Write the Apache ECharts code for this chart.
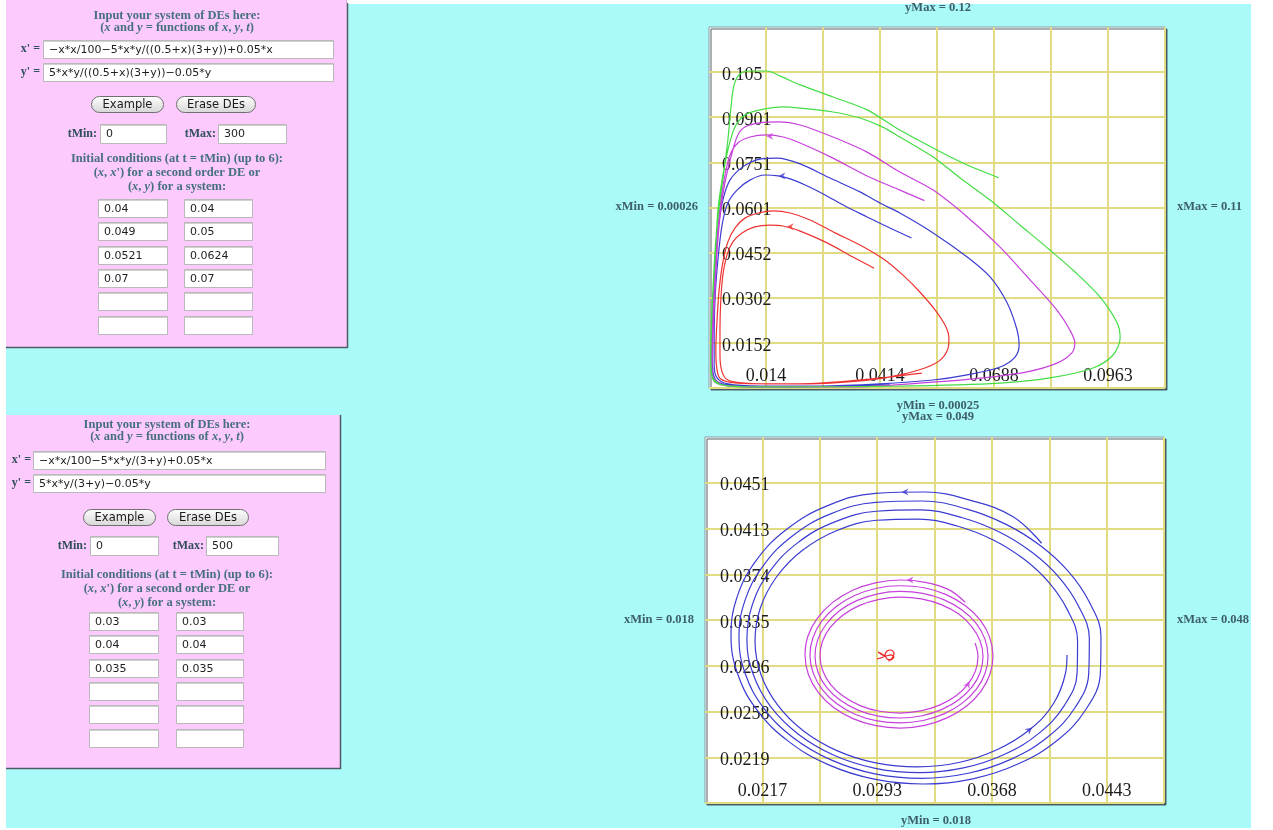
<!DOCTYPE html>
<html><head><meta charset="utf-8">
<script src="https://cdn.jsdelivr.net/npm/echarts@6/dist/echarts.min.js"></script>
<style>html,body{margin:0;padding:0;background:#fff;}#c{width:1273px;height:830px;}</style>
</head><body><div id="c"></div>
<script>
// ================= DATA =================
// Plot 1 (top) window
const p1XMin = 0.00026, p1XMax = 0.11, p1YMin = 0.00025, p1YMax = 0.12;
const p1XLabels = ['', '0.014', '', '0.0414', '', '0.0688', '', '0.0963', ''];
const p1YLabels = ['', '0.0152', '0.0302', '0.0452', '0.0601', '0.0751', '0.0901', '0.105', ''];
// Plot 2 (bottom) window
const p2XMin = 0.018, p2XMax = 0.048, p2YMin = 0.018, p2YMax = 0.049;
const p2XLabels = ['', '0.0217', '', '0.0293', '', '0.0368', '', '0.0443', ''];
const p2YLabels = ['', '0.0219', '0.0258', '0.0296', '0.0335', '0.0374', '0.0413', '0.0451', ''];

// Plot 1 trajectories (x, y)
const p1Red = [[0.0400,0.0400],[0.0349,0.0437],[0.0287,0.0484],[0.0222,0.0523],[0.0181,0.0540],[0.0149,0.0543],[0.0113,0.0537],[0.0082,0.0517],[0.0060,0.0487],[0.0046,0.0444],[0.0036,0.0377],[0.0031,0.0294],[0.0029,0.0195],[0.0029,0.0112],[0.0034,0.0056],[0.0048,0.0029],[0.0089,0.0019],[0.0173,0.0016],[0.0294,0.0019],[0.0390,0.0029],[0.0462,0.0046],[0.0522,0.0069],[0.0559,0.0095],[0.0578,0.0135],[0.0580,0.0168],[0.0573,0.0205],[0.0547,0.0261],[0.0510,0.0321],[0.0474,0.0371],[0.0426,0.0427],[0.0366,0.0477],[0.0306,0.0517],[0.0246,0.0560],[0.0198,0.0583],[0.0157,0.0590],[0.0121,0.0583],[0.0089,0.0566],[0.0065,0.0533],[0.0048,0.0487],[0.0036,0.0420],[0.0027,0.0328],[0.0022,0.0228],[0.0019,0.0128],[0.0022,0.0062],[0.0031,0.0032],[0.0065,0.0019],[0.0149,0.0016],[0.0270,0.0019],[0.0390,0.0032],[0.0515,0.0052]];
const p1Blue = [[0.0490,0.0500],[0.0438,0.0533],[0.0383,0.0570],[0.0330,0.0606],[0.0282,0.0643],[0.0234,0.0676],[0.0198,0.0696],[0.0169,0.0706],[0.0137,0.0709],[0.0101,0.0692],[0.0070,0.0659],[0.0048,0.0616],[0.0034,0.0543],[0.0024,0.0427],[0.0017,0.0294],[0.0015,0.0162],[0.0015,0.0079],[0.0022,0.0036],[0.0048,0.0016],[0.0125,0.0009],[0.0270,0.0009],[0.0414,0.0016],[0.0542,0.0029],[0.0624,0.0046],[0.0703,0.0072],[0.0739,0.0105],[0.0749,0.0145],[0.0744,0.0195],[0.0720,0.0285],[0.0679,0.0371],[0.0624,0.0437],[0.0542,0.0517],[0.0462,0.0583],[0.0414,0.0616],[0.0366,0.0653],[0.0294,0.0699],[0.0222,0.0746],[0.0166,0.0765],[0.0125,0.0762],[0.0084,0.0736],[0.0053,0.0692],[0.0036,0.0626],[0.0024,0.0527],[0.0017,0.0394],[0.0012,0.0261],[0.0010,0.0128],[0.0012,0.0056],[0.0024,0.0022],[0.0065,0.0009],[0.0173,0.0006],[0.0318,0.0009],[0.0438,0.0013]];
const p1Magenta = [[0.0521,0.0624],[0.0462,0.0659],[0.0383,0.0706],[0.0301,0.0765],[0.0222,0.0815],[0.0181,0.0835],[0.0142,0.0842],[0.0101,0.0835],[0.0072,0.0815],[0.0053,0.0775],[0.0041,0.0709],[0.0031,0.0626],[0.0022,0.0493],[0.0015,0.0328],[0.0010,0.0162],[0.0010,0.0069],[0.0017,0.0029],[0.0048,0.0009],[0.0173,0.0006],[0.0342,0.0006],[0.0542,0.0022],[0.0662,0.0036],[0.0768,0.0056],[0.0840,0.0085],[0.0876,0.0119],[0.0883,0.0152],[0.0871,0.0195],[0.0840,0.0261],[0.0782,0.0351],[0.0703,0.0470],[0.0624,0.0570],[0.0542,0.0659],[0.0462,0.0719],[0.0383,0.0785],[0.0301,0.0835],[0.0222,0.0875],[0.0173,0.0885],[0.0125,0.0882],[0.0089,0.0868],[0.0072,0.0842],[0.0060,0.0792],[0.0046,0.0716],[0.0034,0.0626],[0.0024,0.0493],[0.0017,0.0328],[0.0012,0.0162],[0.0010,0.0062],[0.0017,0.0022],[0.0053,0.0009],[0.0198,0.0006],[0.0366,0.0006]];
const p1Green = [[0.0700,0.0700],[0.0624,0.0742],[0.0551,0.0792],[0.0462,0.0858],[0.0383,0.0925],[0.0301,0.0968],[0.0222,0.1008],[0.0173,0.1038],[0.0142,0.1054],[0.0101,0.1054],[0.0077,0.1044],[0.0063,0.1008],[0.0056,0.0941],[0.0048,0.0825],[0.0039,0.0726],[0.0029,0.0626],[0.0019,0.0493],[0.0012,0.0328],[0.0007,0.0162],[0.0007,0.0062],[0.0017,0.0022],[0.0053,0.0009],[0.0173,0.0006],[0.0462,0.0009],[0.0703,0.0019],[0.0823,0.0036],[0.0927,0.0069],[0.0975,0.0112],[0.0992,0.0168],[0.0985,0.0218],[0.0944,0.0304],[0.0883,0.0388],[0.0823,0.0460],[0.0751,0.0543],[0.0679,0.0626],[0.0607,0.0699],[0.0542,0.0769],[0.0462,0.0835],[0.0421,0.0868],[0.0366,0.0898],[0.0301,0.0918],[0.0222,0.0931],[0.0181,0.0935],[0.0125,0.0925],[0.0089,0.0908],[0.0065,0.0868],[0.0048,0.0792],[0.0034,0.0692],[0.0024,0.0593],[0.0017,0.0427],[0.0010,0.0261],[0.0007,0.0095],[0.0012,0.0036],[0.0034,0.0013],[0.0125,0.0006]];
const p1Arrows = [[0.0198,0.0537,0,'#ee3333'],[0.0178,0.0706,0,'#3c3cd2'],[0.0149,0.0838,0,'#c640dc']];

// Plot 2 trajectories
const p2Blue = [[0.04000,0.04000],[0.03814,0.04224],[0.03542,0.04361],[0.03237,0.04434],[0.02914,0.04423],[0.02602,0.04319],[0.02336,0.04121],[0.02135,0.03855],[0.02010,0.03546],[0.01970,0.03217],[0.02015,0.02888],[0.02142,0.02584],[0.02344,0.02324],[0.02605,0.02125],[0.02906,0.02002],[0.03229,0.01961],[0.03551,0.02005],[0.03849,0.02132],[0.04103,0.02331],[0.04290,0.02594],[0.04384,0.02898],[0.04388,0.03209],[0.04312,0.03502],[0.04176,0.03760],
 [0.03993,0.03979],[0.03771,0.04158],[0.03512,0.04289],[0.03222,0.04358],[0.02917,0.04347],[0.02621,0.04249],[0.02369,0.04060],[0.02179,0.03807],[0.02061,0.03514],[0.02022,0.03201],[0.02065,0.02889],[0.02186,0.02600],[0.02377,0.02353],[0.02624,0.02165],[0.02910,0.02047],[0.03216,0.02009],[0.03520,0.02052],[0.03802,0.02172],[0.04042,0.02361],[0.04219,0.02609],[0.04308,0.02898],[0.04312,0.03193],[0.04240,0.03471],[0.04111,0.03716],
 [0.03937,0.03923],[0.03727,0.04093],[0.03483,0.04216],[0.03208,0.04282],[0.02920,0.04271],[0.02640,0.04177],[0.02401,0.03999],[0.02222,0.03759],[0.02110,0.03482],[0.02074,0.03185],[0.02115,0.02890],[0.02229,0.02616],[0.02410,0.02383],[0.02643,0.02205],[0.02913,0.02094],[0.03201,0.02057],[0.03489,0.02097],[0.03755,0.02211],[0.03982,0.02390],[0.04148,0.02625],[0.04232,0.02898],[0.04235,0.03177],[0.04167,0.03440],[0.04046,0.03671],
 [0.03882,0.03868],[0.03684,0.04028],[0.03453,0.04144],[0.03195,0.04205],[0.02922,0.04195],[0.02659,0.04106],[0.02435,0.03938],[0.02266,0.03712],[0.02161,0.03449],[0.02127,0.03170],[0.02165,0.02891],[0.02273,0.02633],[0.02442,0.02412],[0.02662,0.02244],[0.02916,0.02140],[0.03188,0.02106],[0.03458,0.02143],[0.03708,0.02251],[0.03921,0.02420],[0.04077,0.02641],[0.04156,0.02899],[0.04166,0.03054]];
const p2Magenta = [[0.03500,0.03500],[0.03393,0.03607],[0.03240,0.03669],[0.03076,0.03689],[0.02913,0.03665],[0.02762,0.03600],[0.02633,0.03497],[0.02535,0.03366],[0.02473,0.03214],[0.02454,0.03051],[0.02476,0.02888],[0.02539,0.02739],[0.02639,0.02611],[0.02767,0.02515],[0.02917,0.02455],[0.03076,0.02435],[0.03235,0.02458],[0.03382,0.02521],[0.03508,0.02619],[0.03603,0.02746],[0.03663,0.02893],[0.03682,0.03049],[0.03660,0.03205],[0.03599,0.03349],
 [0.03502,0.03471],[0.03376,0.03565],[0.03231,0.03623],[0.03076,0.03640],[0.02922,0.03619],[0.02778,0.03557],[0.02656,0.03463],[0.02563,0.03340],[0.02505,0.03198],[0.02486,0.03048],[0.02508,0.02898],[0.02568,0.02759],[0.02662,0.02641],[0.02784,0.02550],[0.02926,0.02495],[0.03076,0.02478],[0.03226,0.02499],[0.03365,0.02557],[0.03484,0.02648],[0.03575,0.02766],[0.03631,0.02901],[0.03650,0.03046],[0.03629,0.03190],[0.03571,0.03323],
 [0.03478,0.03436],[0.03360,0.03523],[0.03223,0.03576],[0.03076,0.03592],[0.02930,0.03572],[0.02795,0.03516],[0.02679,0.03428],[0.02592,0.03314],[0.02537,0.03184],[0.02519,0.03045],[0.02539,0.02906],[0.02596,0.02778],[0.02685,0.02670],[0.02800,0.02587],[0.02933,0.02536],[0.03076,0.02520],[0.03218,0.02539],[0.03349,0.02593],[0.03461,0.02677],[0.03547,0.02785],[0.03600,0.02910],[0.03617,0.03043],[0.03597,0.03176],[0.03542,0.03297],
 [0.03456,0.03402],[0.03344,0.03480],[0.03214,0.03529],[0.03076,0.03544],[0.02939,0.03525],[0.02811,0.03474],[0.02703,0.03393],[0.02620,0.03289],[0.02568,0.03170],[0.02552,0.03042],[0.02571,0.02916],[0.02624,0.02799],[0.02709,0.02699],[0.02817,0.02623],[0.02942,0.02577],[0.03076,0.02562],[0.03210,0.02580],[0.03333,0.02629],[0.03439,0.02706],[0.03518,0.02805],[0.03568,0.02919],[0.03584,0.03041],[0.03565,0.03155]];
const p2Red = [[0.03000,0.03000],[0.03029,0.03037],[0.03035,0.03071],[0.03016,0.03096],[0.02990,0.03087],[0.02976,0.03054],[0.02990,0.03020],[0.03016,0.03012],[0.03035,0.03037],[0.03016,0.03054],[0.02976,0.03045],[0.02931,0.03079],[0.02976,0.03045],[0.02924,0.03020]];
const p2Arrows = [[0.03107,0.04434,0,'#3c3cd2'],[0.03921,0.02420,-141,'#3c3cd2'],[0.03140,0.03689,0,'#c640dc'],[0.03518,0.02805,-115,'#c640dc']];

// Form contents
const topDEs = ['\u2212x*x/100\u22125*x*y/((0.5+x)(3+y))+0.05*x', '5*x*y/((0.5+x)(3+y))\u22120.05*y'];
const topT = ['0', '300'];
const topICx = ['0.04', '0.049', '0.0521', '0.07', '', ''];
const topICy = ['0.04', '0.05', '0.0624', '0.07', '', ''];
const botDEs = ['\u2212x*x/100\u22125*x*y/(3+y)+0.05*x', '5*x*y/(3+y)\u22120.05*y'];
const botT = ['0', '500'];
const botICx = ['0.03', '0.04', '0.035', '', '', ''];
const botICy = ['0.03', '0.04', '0.035', '', '', ''];
const p1Titles = ['yMax = 0.12', 'xMin = 0.00026', 'xMax = 0.11', 'yMin = 0.00025'];
const p2Titles = ['yMax = 0.049', 'xMin = 0.018', 'xMax = 0.048', 'yMin = 0.018'];

// ================= DRAWING =================
const CYAN = '#aafafa', PINK = '#fccafc', LBL = '#46707e';
const SERIF = '"Liberation Serif","Times New Roman",serif';
const SANS = '"DejaVu Sans",sans-serif';
const G = [];
function txt(x, y, text, font, align, fill, rich, z) {
  G.push({type: 'text', x: x, y: y, z: z || 10, silent: true,
    style: {text: text, font: font, fill: fill || LBL, align: align || 'center', verticalAlign: 'middle',
            textAlign: align || 'center', textVerticalAlign: 'middle', rich: rich}});
}
function rect(x, y, w, h, fill, stroke, z, r, lw) {
  G.push({type: 'rect', z: z || 5, silent: true, shape: {x: x, y: y, width: w, height: h, r: r || 0},
    style: {fill: fill, stroke: stroke || null, lineWidth: lw || 1}});
}
function line(x1, y1, x2, y2, stroke, lw, z) {
  G.push({type: 'line', z: z || 6, silent: true, shape: {x1: x1, y1: y1, x2: x2, y2: y2}, style: {stroke: stroke, lineWidth: lw || 1}});
}
function field(x, y, w, h, value) {
  rect(x + 0.5, y + 0.5, w, h, '#ffffff', '#b9b9b9', 6);
  line(x + 1, y + 1.5, x + w, y + 1.5, '#d0d0d0', 1, 7);
  if (value) txt(x + 6, y + h / 2 + 1, value, '11px ' + SANS, 'left', '#1e1e1e');
}
function button(x, y, w, h, label) {
  G.push({type: 'rect', z: 6, silent: true, shape: {x: x + 0.5, y: y + 0.5, width: w, height: h, r: h / 2},
    style: {fill: {type: 'linear', x: 0, y: 0, x2: 0, y2: 1, colorStops: [{offset: 0, color: '#ffffff'}, {offset: 1, color: '#d6d6d6'}]},
            stroke: '#6f6f6f', lineWidth: 1}});
  txt(x + w / 2 + 0.5, y + h / 2 + 1, label, '11.5px ' + SANS, 'center', '#1a1a1a');
}
const BOLD = 'bold 12.5px ' + SERIF;
const ITAL = {i: {font: 'italic bold 12.5px ' + SERIF, fill: LBL}};
function panel(o) {
  rect(o.x, o.y, o.w, o.h, PINK, null, -50);
  line(o.x + o.w + 0.5, o.y, o.x + o.w + 0.5, o.y + o.h + 1, '#4f5b60', 1.5, -40);
  line(o.x, o.y + o.h + 0.5, o.x + o.w + 1, o.y + o.h + 0.5, '#4f5b60', 1.5, -40);
  const c = o.cx;
  txt(c, o.hy, 'Input your system of DEs here:', BOLD);
  txt(c, o.hy + 12, '({i|x} and {i|y} = functions of {i|x}, {i|y}, {i|t})', BOLD, 'center', LBL, ITAL);
  txt(o.lx, o.ey + 9, "x' =", 'bold 12px ' + SERIF, 'right', '#2f4f5a');
  field(o.ex, o.ey, o.ew, 18, o.des[0]);
  txt(o.lx, o.ey + 32, "y' =", 'bold 12px ' + SERIF, 'right', '#2f4f5a');
  field(o.ex, o.ey + 23, o.ew, 18, o.des[1]);
  button(o.bx[0], o.by, o.bw[0], 16, 'Example');
  button(o.bx[1], o.by, o.bw[1], 16, 'Erase DEs');
  txt(o.tx[0], o.ty + 10, 'tMin:', 'bold 12px ' + SERIF, 'right', '#2f4f5a');
  field(o.tx[0] + 3, o.ty, o.tw[0], 19, o.t[0]);
  txt(o.tx[1], o.ty + 10, 'tMax:', 'bold 12px ' + SERIF, 'right', '#2f4f5a');
  field(o.tx[1] + 2, o.ty, o.tw[1], 19, o.t[1]);
  txt(c, o.iy, 'Initial conditions (at t = tMin) (up to 6):', BOLD);
  txt(c, o.iy + 14, "({i|x}, {i|x}') for a second order DE or", BOLD, 'center', LBL, ITAL);
  txt(c, o.iy + 28, '({i|x}, {i|y}) for a system:', BOLD, 'center', LBL, ITAL);
  for (let k = 0; k < 6; k++) {
    const yy = Math.round(o.fy + k * 23.3);
    field(o.fx[0], yy, o.fw[0], 18, o.icx[k]);
    field(o.fx[1], yy, o.fw[1], 18, o.icy[k]);
  }
}
// backgrounds
rect(6, 4, 1245, 824, CYAN, null, -100);
panel({x: 6, y: 0, w: 341, h: 347, cx: 177, hy: 16, lx: 40, ex: 43, ey: 40, ew: 290, des: topDEs,
  bx: [91, 176], bw: [72, 79], by: 96, tx: [97, 216], tw: [66, 68], ty: 124, t: topT,
  iy: 159, fx: [98, 184], fw: [69, 68], fy: 199, icx: topICx, icy: topICy});
txt(177, -3, 'or', BOLD);
panel({x: 6, y: 415, w: 334, h: 353, cx: 167, hy: 425, lx: 31, ex: 33, ey: 451, ew: 292, des: botDEs,
  bx: [83, 167], bw: [72, 81], by: 509, tx: [87, 204], tw: [68, 72], ty: 536, t: botT,
  iy: 575, fx: [89, 176], fw: [69, 67], fy: 612, icx: botICx, icy: botICy});

// window labels
const TF = 'bold 12.5px ' + SERIF, TC = '#3d5f6b';
txt(938, 8, p1Titles[0], TF, 'center', TC);
txt(698, 207, p1Titles[1], TF, 'right', TC);
txt(1177, 207, p1Titles[2], TF, 'left', TC);
txt(938, 406, p1Titles[3], TF, 'center', TC);
txt(938, 417, p2Titles[0], TF, 'center', TC);
txt(694, 620, p2Titles[1], TF, 'right', TC);
txt(1177, 620, p2Titles[2], TF, 'left', TC);
txt(936, 821, p2Titles[3], TF, 'center', TC);
// outer white margins (clip)
rect(347, 0, 926, 3, '#ffffff', null, 60);
rect(1251, 0, 22, 830, '#ffffff', null, 60);
rect(0, 828, 1273, 2, '#ffffff', null, 60);

// ---- axes helpers ----
function lblFmt(labels, min, max) {
  return function (v) { const k = Math.round((v - min) / ((max - min) / 8)); return labels[k] || ''; };
}
const LABEL = {color: '#1b1b1b', fontFamily: SERIF, fontSize: 18};
function xAx(gi, min, max, labels) {
  return {gridIndex: gi, type: 'value', min: min, max: max, interval: (max - min) / 8,
    axisLine: {show: false}, axisTick: {show: false},
    splitLine: {show: true, showMinLine: false, showMaxLine: true, lineStyle: {color: '#e1db82', width: 2}},
    axisLabel: Object.assign({inside: true, margin: 3, formatter: lblFmt(labels, min, max)}, LABEL)};
}
function yAx(gi, min, max, labels, m) {
  return {gridIndex: gi, type: 'value', min: min, max: max, interval: (max - min) / 8,
    axisLine: {show: false}, axisTick: {show: false},
    splitLine: {show: true, showMinLine: true, showMaxLine: false, lineStyle: {color: '#e1db82', width: 2}},
    axisLabel: Object.assign({inside: true, margin: m, verticalAlign: 'top', lineHeight: 6, formatter: lblFmt(labels, min, max)}, LABEL)};
}
function traj(data, color, xi, smooth) {
  return {type: 'line', data: data, xAxisIndex: xi, yAxisIndex: xi, showSymbol: false, symbol: 'none',
    smooth: smooth, lineStyle: {color: color, width: 1.2}, silent: true, z: 3};
}
function arrows(list, xi) {
  return {type: 'scatter', xAxisIndex: xi, yAxisIndex: xi, silent: true, z: 4,
    symbol: 'path://M10,0 L0,5 L10,10 L7,5 Z', symbolSize: [7, 7],
    data: list.map(a => ({value: [a[0], a[1]], symbolRotate: a[2], itemStyle: {color: a[3]}}))};
}
const GRIDSTYLE = {show: true, backgroundColor: '#ffffff', borderColor: '#8a9a9f', borderWidth: 1,
  shadowColor: 'rgba(70,88,95,0.95)', shadowOffsetX: 2, shadowOffsetY: 2, shadowBlur: 0.01};

const chart = echarts.init(document.getElementById('c'), null, {renderer: 'canvas'});
chart.setOption({
  animation: false,
  backgroundColor: '#ffffff',
  grid: [Object.assign({left: 709, top: 27, width: 456, height: 361}, GRIDSTYLE),
         Object.assign({left: 705, top: 437, width: 459, height: 366}, GRIDSTYLE)],
  xAxis: [xAx(0, p1XMin, p1XMax, p1XLabels), xAx(1, p2XMin, p2XMax, p2XLabels)],
  yAxis: [yAx(0, p1YMin, p1YMax, p1YLabels, 13), yAx(1, p2YMin, p2YMax, p2YLabels, 15)],
  series: [
    traj(p1Red, '#ee3333', 0, 0.3),
    traj(p1Blue, '#3c3cd2', 0, 0.3),
    traj(p1Magenta, '#c640dc', 0, 0.3),
    traj(p1Green, '#44dd44', 0, 0.3),
    arrows(p1Arrows, 0),
    traj(p2Blue, '#3c3cd2', 1, 0.4),
    traj(p2Magenta, '#c640dc', 1, 0.4),
    traj(p2Red, '#ee2222', 1, 0.2),
    arrows(p2Arrows, 1)
  ],
  graphic: {elements: G}
});
</script></body></html>
